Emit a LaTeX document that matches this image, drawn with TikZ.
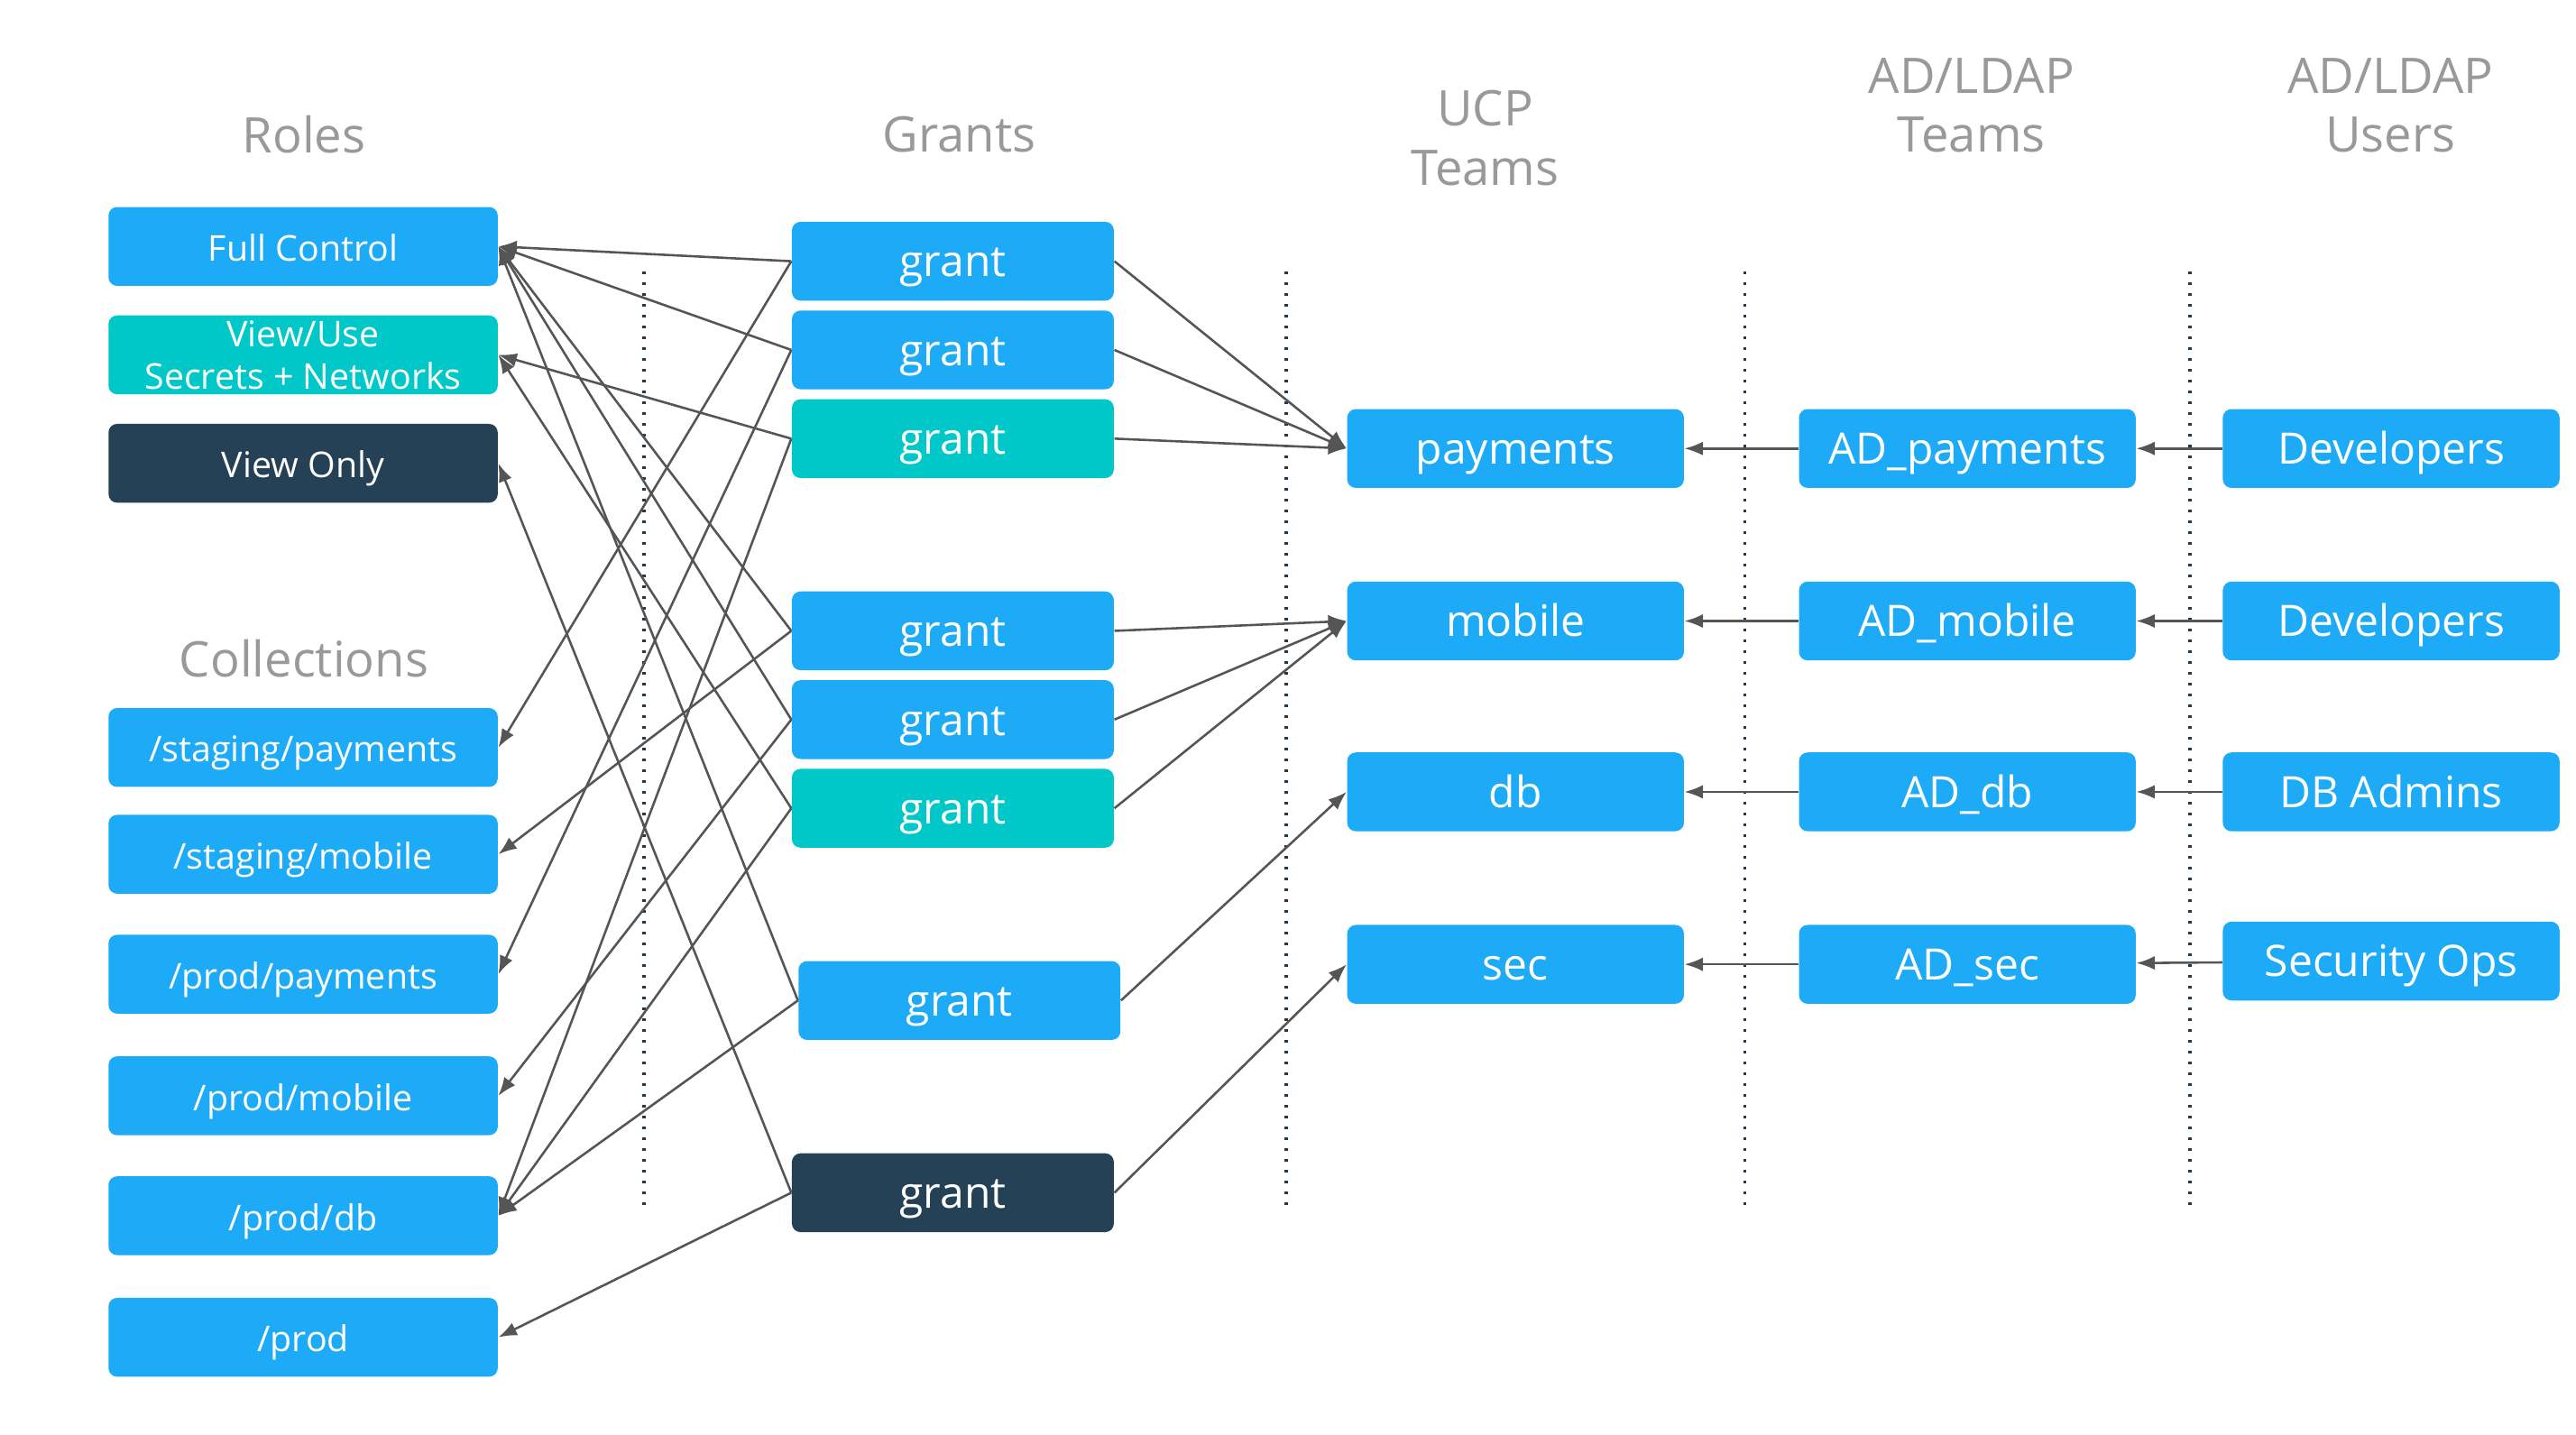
\documentclass[tikz,border=0pt]{standalone}
\usepackage{fontspec}
\setmainfont{Open Sans}
\usetikzlibrary{arrows.meta,positioning}

\definecolor{boxblue}{HTML}{1DAAF6}
\definecolor{boxteal}{HTML}{00C8C8}
\definecolor{boxnavy}{HTML}{244156}
\definecolor{titlegray}{HTML}{999999}
\definecolor{edgegray}{HTML}{555555}
\definecolor{sepgray}{HTML}{26394B}

\begin{document}
\begin{tikzpicture}[
    x=0.02cm, y=-0.02cm,
    box/.style={rectangle, rounded corners=3pt, fill=boxblue, text=white, minimum height=0.96cm, inner sep=0pt, align=center},
    widebox/.style={box, minimum width=4.74cm, font=\fontsize{12.3}{14.8}\selectfont},
    rolebox/.style={widebox, text height=10.1pt, text depth=0pt},
    grantbox/.style={box, minimum width=3.92cm, text height=10.8pt, text depth=0pt, font=\fontsize{15}{18}\selectfont},
    teambox/.style={box, minimum width=4.1cm, text height=10.8pt, text depth=0pt, font=\fontsize{15}{18}\selectfont},
    title/.style={text=titlegray, align=center, font=\fontsize{17}{20.4}\selectfont},
    arrow/.style={-{Latex[length=6.4pt,width=4.8pt]}, draw=edgegray, line width=0.8pt},
    sep/.style={draw=sepgray, line width=1.1pt, dash pattern=on 1.1pt off 2.65pt}
]
\useasboundingbox (0,0) rectangle (1568,873);

% column titles
\node[title] (troles) at (185,82) {Roles};
\node[title] (tgrants) at (584,82) {Grants};
\node[title] (tucp) at (904,84) {UCP\\Teams};
\node[title] (tadteams) at (1200,64) {AD/LDAP\\Teams};
\node[title] (tadusers) at (1455,64) {AD/LDAP\\Users};
\node[title] (tcoll) at (185,401) {Collections};

% separators
\draw[sep] (392,165) -- (392,735);
\draw[sep] (783,165) -- (783,735);
\draw[sep] (1062,165) -- (1062,735);
\draw[sep] (1333,165) -- (1333,735);

% roles
\node[rolebox] (fullctl) at (184.5,150) {Full Control};
\node[widebox, fill=boxteal] (viewuse) at (184.5,216) {View/Use\\Secrets + Networks};
\node[rolebox, fill=boxnavy] (viewonly) at (184.5,282) {View Only};

% collections
\node[rolebox] (stpay) at (184.5,455) {/staging/payments};
\node[rolebox] (stmob) at (184.5,520) {/staging/mobile};
\node[rolebox] (prpay) at (184.5,593) {/prod/payments};
\node[rolebox] (prmob) at (184.5,667) {/prod/mobile};
\node[rolebox] (prdb) at (184.5,740) {/prod/db};
\node[rolebox] (prod) at (184.5,814) {/prod};

% grants
\node[grantbox] (g1) at (580,159) {grant};
\node[grantbox] (g2) at (580,213) {grant};
\node[grantbox, fill=boxteal] (g3) at (580,267) {grant};
\node[grantbox] (g4) at (580,384) {grant};
\node[grantbox] (g5) at (580,438) {grant};
\node[grantbox, fill=boxteal] (g6) at (580,492) {grant};
\node[grantbox] (g7) at (584,609) {grant};
\node[grantbox, fill=boxnavy] (g8) at (580,726) {grant};

% UCP teams
\node[teambox] (payments) at (922.5,273) {payments};
\node[teambox] (mobile) at (922.5,378) {mobile};
\node[teambox] (db) at (922.5,482) {db};
\node[teambox] (sec) at (922.5,587) {sec};

% AD/LDAP teams
\node[teambox] (adpay) at (1197.5,273) {AD\_payments};
\node[teambox] (admob) at (1197.5,378) {AD\_mobile};
\node[teambox] (addb) at (1197.5,482) {AD\_db};
\node[teambox] (adsec) at (1197.5,587) {AD\_sec};

% AD/LDAP users
\node[teambox] (dev1) at (1455.5,273) {Developers};
\node[teambox] (dev2) at (1455.5,378) {Developers};
\node[teambox] (dbadm) at (1455.5,482) {DB Admins};
\node[teambox] (secops) at (1455.5,585) {Security Ops};

% grants -> roles
\draw[arrow] (g1.west) -- (fullctl.east);
\draw[arrow] (g2.west) -- (fullctl.east);
\draw[arrow] (g3.west) -- (viewuse.east);
\draw[arrow] (g4.west) -- (fullctl.east);
\draw[arrow] (g5.west) -- (fullctl.east);
\draw[arrow] (g6.west) -- (viewuse.east);
\draw[arrow] (g7.west) -- (fullctl.east);
\draw[arrow] (g8.west) -- (viewonly.east);

% grants -> collections
\draw[arrow] (g1.west) -- (stpay.east);
\draw[arrow] (g2.west) -- (prpay.east);
\draw[arrow] (g3.west) -- (prdb.east);
\draw[arrow] (g4.west) -- (stmob.east);
\draw[arrow] (g5.west) -- (prmob.east);
\draw[arrow] (g6.west) -- (prdb.east);
\draw[arrow] (g7.west) -- (prdb.east);
\draw[arrow] (g8.west) -- (prod.east);

% grants -> UCP teams
\draw[arrow] (g1.east) -- (payments.west);
\draw[arrow] (g2.east) -- (payments.west);
\draw[arrow] (g3.east) -- (payments.west);
\draw[arrow] (g4.east) -- (mobile.west);
\draw[arrow] (g5.east) -- (mobile.west);
\draw[arrow] (g6.east) -- (mobile.west);
\draw[arrow] (g7.east) -- (db.west);
\draw[arrow] (g8.east) -- (sec.west);

% AD/LDAP teams -> UCP teams
\draw[arrow] (adpay) -- (payments);
\draw[arrow] (admob) -- (mobile);
\draw[arrow] (addb) -- (db);
\draw[arrow] (adsec) -- (sec);

% users -> AD/LDAP teams
\draw[arrow] (dev1) -- (adpay);
\draw[arrow] (dev2) -- (admob);
\draw[arrow] (dbadm) -- (addb);
\draw[arrow] (secops) -- (adsec);

\end{tikzpicture}
\end{document}
